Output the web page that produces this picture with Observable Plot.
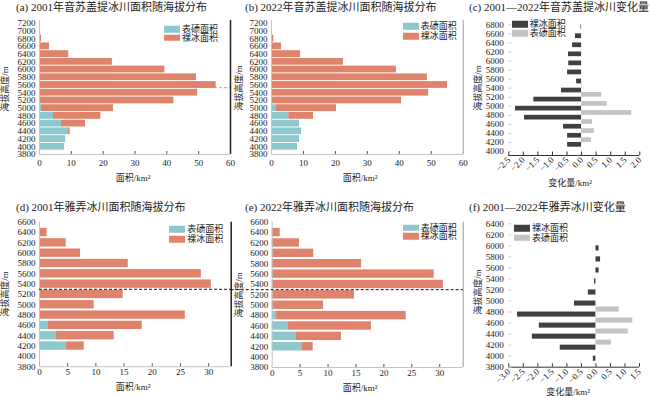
<!DOCTYPE html>
<html><head><meta charset="utf-8">
<script src="https://cdn.jsdelivr.net/npm/d3@7"></script>
<script src="https://cdn.jsdelivr.net/npm/@observablehq/plot@0.6"></script>
<style>
body{margin:0;background:#fff;}
#wrap{position:relative;width:650px;height:396px;overflow:hidden;background:#fff;font-family:"Liberation Serif","Noto Sans CJK SC",serif;color:#222;}
.t{position:absolute;white-space:nowrap;line-height:1;}
.title{font-size:11px;transform:translateY(-50%);}
.yl{font-size:9px;transform:translate(-50%,-50%) rotate(-90deg);}
.xl{font-size:9px;transform:translate(-50%,-50%);}
.sw{position:absolute;width:16px;height:6.5px;transform:translateY(-50%);}
.lt{position:absolute;font-size:9px;line-height:1;white-space:nowrap;transform:translateY(-50%);}
</style></head><body><div id="wrap"></div>
<script>
// ---------------- data ----------------
// 音苏盖提冰川 altitude bands (m)
const insuAlt = [6800, 6600, 6400, 6200, 6000, 5800, 5600, 5400, 5200, 5000, 4800, 4600, 4400, 4200, 4000];
const insu2001Debris = [0, 0, 0, 0, 0, 0, 0, 0, 0, 0.63, 4.4, 6.9, 9.0, 8.2, 7.85];
const insu2001Clean  = [0.63, 3.14, 9.2, 22.9, 39.4, 49.3, 55.5, 49.7, 42.2, 22.6, 14.9, 7.55, 0.6, 0, 0];
const insu2022Debris = [0, 0, 0, 0, 0, 0, 0, 0, 0, 1.36, 5.43, 8.77, 9.4, 8.77, 8.14];
const insu2022Clean  = [0.73, 3.13, 9.08, 22.5, 39.1, 48.8, 55.1, 49.2, 40.7, 19.0, 7.72, 0, 0, 0, 0];
const insuChangeClean  = [-0.02, -0.21, -0.31, -0.45, -0.44, -0.48, -0.17, -0.69, -1.64, -2.27, -1.96, -0.62, -0.48, -0.48, 0];
const insuChangeDebris = [0, 0, 0, 0, 0, 0, 0, 0.02, 0.69, 0.88, 1.72, 0.38, 0.44, 0.34, 0];
const insuSnowline = 5530;

// 雅弄冰川 altitude bands (m)
const yanongAlt = [6400, 6200, 6000, 5800, 5600, 5400, 5200, 5000, 4800, 4600, 4400, 4200, 4000];
const yanong2001Debris = [0, 0, 0, 0, 0, 0, 0, 0, 0, 1.48, 3.02, 4.73, 0.12];
const yanong2001Clean  = [1.36, 4.73, 7.28, 15.74, 28.7, 30.47, 14.85, 9.7, 25.86, 16.74, 10.23, 3.2, 0];
const yanong2022Debris = [0, 0, 0, 0, 0, 0, 0, 0, 0.78, 2.8, 4.23, 5.3, 0];
const yanong2022Clean  = [1.43, 4.89, 7.45, 16.0, 29.0, 30.65, 14.73, 9.18, 23.22, 14.97, 8.17, 2.03, 0];
const yanongChangeClean  = [0, 0, 0.11, 0.16, 0.11, -0.05, -0.26, -0.74, -2.70, -1.95, -2.19, -1.23, -0.09];
const yanongChangeDebris = [0, 0, 0, 0, 0, 0, 0, 0, 0.80, 1.27, 1.11, 0.53, 0];
const yanongSnowline = 5300;

// tick labels
const insuAreaYTicks = [3800, 4000, 4200, 4400, 4600, 4800, 5000, 5200, 5400, 5600, 5800, 6000, 6200, 6400, 6600, 6800, 7000, 7200];
const insuAreaXTicks = [0, 10, 20, 30, 40, 50, 60];
const insuChangeYTicks = [4000, 4200, 4400, 4600, 4800, 5000, 5200, 5400, 5600, 5800, 6000, 6200, 6400, 6600, 6800];
const insuChangeXTicks = [-2.5, -2.0, -1.5, -1.0, -0.5, 0.0, 0.5, 1.0, 1.5, 2.0];
const yanongAreaYTicks = [3800, 4000, 4200, 4400, 4600, 4800, 5000, 5200, 5400, 5600, 5800, 6000, 6200, 6400, 6600];
const yanongAreaXTicks = [0, 5, 10, 15, 20, 25, 30];
const yanongChangeYTicks = [3800, 4000, 4200, 4400, 4600, 4800, 5000, 5200, 5400, 5600, 5800, 6000, 6200, 6400];
const yanongChangeXTicks = [-3.0, -2.5, -2.0, -1.5, -1.0, -0.5, 0.0, 0.5, 1.0, 1.5];

const titles = [
  "(a) 2001年音苏盖提冰川面积随海拔分布",
  "(b) 2022年音苏盖提冰川面积随海拔分布",
  "(c) 2001—2022年音苏盖提冰川变化量",
  "(d) 2001年雅弄冰川面积随海拔分布",
  "(e) 2022年雅弄冰川面积随海拔分布",
  "(f) 2001—2022年雅弄冰川变化量"
];
const yLabel = "海拔高度/m";
const areaLabel = "面积/km²";
const changeLabel = "变化量/km²";
const debrisName = "表碛面积";
const cleanName = "裸冰面积";

// ---------------- styles ----------------
const TEAL = "#8dc8ce", RED = "#df836d", DARK = "#404040", LIGHT = "#c3c3c3";
const FONT = '"Liberation Serif","Noto Sans CJK SC",serif';
const wrap = document.getElementById("wrap");

function place(el, left, top) {
  el.style.position = "absolute";
  el.style.left = left + "px";
  el.style.top = top + "px";
  wrap.appendChild(el);
}
function text(cls, str, x, y) {
  const d = document.createElement("div");
  d.className = "t " + cls;
  d.textContent = str;
  d.style.left = x + "px";
  d.style.top = y + "px";
  wrap.appendChild(d);
}
function legend(x, y, gap, items) {
  items.forEach(([color, name], i) => {
    const s = document.createElement("div");
    s.className = "sw";
    s.style.left = x + "px";
    s.style.top = (y + i * gap) + "px";
    s.style.background = color;
    wrap.appendChild(s);
    const t = document.createElement("div");
    t.className = "lt";
    t.textContent = name;
    t.style.left = (x + 18) + "px";
    t.style.top = (y + i * gap) + "px";
    wrap.appendChild(t);
  });
}
const fmtSigned = d => (d < 0 ? "\u2212" : "") + Math.abs(d).toFixed(1);

function areaPanel(o) {
  const mL = o.fx0 - o.left, mR = o.left + o.w - o.fx1, mT = o.fy0 - o.top, mB = o.top + o.h - o.fy1;
  const plotH = o.fy1 - o.fy0;
  const rows = o.alt.map((a, i) => ({alt: a, debris: o.debris[i], clean: o.clean[i]}));
  const marks = [];
  if (o.snowUnder) marks.push(Plot.ruleY([o.snow], {stroke: "#a8a8a8", strokeDasharray: "3,2"}));
  marks.push(
    Plot.rect(rows.filter(d => d.debris > 0), {x1: () => 0, x2: d => d.debris, y1: d => d.alt - o.halfH, y2: d => d.alt + o.halfH, fill: TEAL}),
    Plot.rect(rows.filter(d => d.clean > 0), {x1: d => d.debris, x2: d => d.debris + d.clean, y1: d => d.alt - o.halfH, y2: d => d.alt + o.halfH, fill: RED}),
    Plot.ruleX([o.xDomain[0]], {stroke: "#c4c4c4"}),
    Plot.ruleX([o.xDomain[1]], {stroke: o.rightColor, strokeWidth: o.rightWidth}),
    Plot.ruleY([o.yDomain[0]], {stroke: "#c4c4c4"}),
    Plot.ruleX(o.xTicks.filter(t => t > o.xDomain[0] && t < o.xDomain[1]), {x: d => d, insetTop: plotH - 3, stroke: "#555"}),
    Plot.axisX({ticks: o.xTicks, tickSize: 0, tickPadding: o.xPad, tickFormat: d => String(d), label: null, fontSize: 9}),
    Plot.axisY({ticks: o.yTicks, tickSize: 0, tickPadding: 4, tickFormat: d => String(d), label: null, fontSize: 9})
  );
  if (o.snowOver) marks.push(Plot.ruleY([o.snow], {stroke: "#111", strokeDasharray: "3,2", insetLeft: o.snowInsetLeft || 0}));
  const svg = Plot.plot({
    width: o.w, height: o.h, marginLeft: mL, marginRight: mR, marginTop: mT, marginBottom: mB,
    x: {domain: o.xDomain}, y: {domain: o.yDomain},
    style: {background: "transparent", overflow: "visible", fontFamily: FONT, fontSize: "9px", color: "#222"},
    marks
  });
  place(svg, o.left, o.top);
}

function changePanel(o) {
  const mL = o.fx0 - o.left, mR = o.left + o.w - o.fx1, mT = o.fy0 - o.top, mB = o.top + o.h - o.fy1;
  const plotH = o.fy1 - o.fy0;
  const rows = o.alt.map((a, i) => ({alt: a, clean: o.clean[i], debris: o.debris[i]}));
  const svg = Plot.plot({
    width: o.w, height: o.h, marginLeft: mL, marginRight: mR, marginTop: mT, marginBottom: mB,
    x: {domain: o.xDomain}, y: {domain: o.yDomain},
    style: {background: "transparent", overflow: "visible", fontFamily: FONT, fontSize: "9px", color: "#222"},
    marks: [
      Plot.rect(rows.filter(d => d.clean !== 0), {x1: () => 0, x2: d => d.clean, y1: d => d.alt - o.bh, y2: d => d.alt, fill: DARK}),
      Plot.rect(rows.filter(d => d.debris !== 0), {x1: () => 0, x2: d => d.debris, y1: d => d.alt, y2: d => d.alt + o.bh, fill: LIGHT}),
      Plot.ruleY([o.yDomain[0]], {stroke: "#333"}),
      Plot.ruleX(o.xTicks, {x: d => d, insetTop: plotH - 3.5, stroke: "#333"}),
      Plot.ruleY(o.yTicks, {y: d => d, insetRight: (o.fx1 - o.fx0) - 3, stroke: "#c8c8c8"}),
      Plot.axisX({ticks: o.xTicks, tickSize: 0, tickPadding: 3, tickRotate: -45, tickFormat: fmtSigned, label: null, fontSize: 9}),
      Plot.axisY({ticks: o.yTicks, tickSize: 0, tickPadding: 5, tickFormat: d => String(d), label: null, fontSize: 9})
    ]
  });
  place(svg, o.left, o.top);
}

// ---------------- panels ----------------
areaPanel({left: 0, top: 0, w: 232, h: 200, fx0: 39, fx1: 230, fy0: 20, fy1: 154,
  xDomain: [0, 60], yDomain: [3800, 7270], xTicks: insuAreaXTicks, yTicks: insuAreaYTicks,
  alt: insuAlt, debris: insu2001Debris, clean: insu2001Clean, halfH: 88, xPad: 5,
  snow: insuSnowline, snowUnder: true, rightColor: "#222", rightWidth: 1.5});
areaPanel({left: 232, top: 0, w: 233, h: 200, fx0: 271, fx1: 462.7, fy0: 20, fy1: 154,
  xDomain: [0, 60], yDomain: [3800, 7270], xTicks: insuAreaXTicks, yTicks: insuAreaYTicks,
  alt: insuAlt, debris: insu2022Debris, clean: insu2022Clean, halfH: 88, xPad: 5,
  rightColor: "#999", rightWidth: 1});
changePanel({left: 465, top: 0, w: 185, h: 200, fx0: 508.3, fx1: 639.3, fy0: 19.8, fy1: 155,
  xDomain: [-2.5, 2.0], yDomain: [3912, 6900], xTicks: insuChangeXTicks, yTicks: insuChangeYTicks,
  alt: insuAlt, clean: insuChangeClean, debris: insuChangeDebris, bh: 104});

areaPanel({left: 0, top: 195, w: 232, h: 201, fx0: 39, fx1: 230.7, fy0: 221.7, fy1: 366.2,
  xDomain: [0, 34], yDomain: [3800, 6600], xTicks: yanongAreaXTicks, yTicks: yanongAreaYTicks,
  alt: yanongAlt, debris: yanong2001Debris, clean: yanong2001Clean, halfH: 81, xPad: 2,
  snow: yanongSnowline, snowOver: true, rightColor: "#222", rightWidth: 1.5});
areaPanel({left: 232, top: 195, w: 233, h: 201, fx0: 271.7, fx1: 462.7, fy0: 221.7, fy1: 367,
  xDomain: [0, 34.2], yDomain: [3800, 6600], xTicks: yanongAreaXTicks, yTicks: yanongAreaYTicks,
  alt: yanongAlt, debris: yanong2022Debris, clean: yanong2022Clean, halfH: 81, xPad: 2,
  snow: yanongSnowline, snowOver: true, snowInsetLeft: -(271.7 - 230.7), rightColor: "#999", rightWidth: 1});
changePanel({left: 465, top: 195, w: 185, h: 201, fx0: 508.3, fx1: 639, fy0: 223.3, fy1: 366.7,
  xDomain: [-3.0, 1.5], yDomain: [3800, 6400], xTicks: yanongChangeXTicks, yTicks: yanongChangeYTicks,
  alt: yanongAlt, clean: yanongChangeClean, debris: yanongChangeDebris, bh: 92});

// ---------------- texts ----------------
text("title", titles[0], 16, 6.5);
text("title", titles[1], 245, 6.5);
text("title", titles[2], 469, 6.5);
text("title", titles[3], 16, 207);
text("title", titles[4], 245, 207);
text("title", titles[5], 469, 207);

text("yl", yLabel, 5, 89);
text("yl", yLabel, 238.5, 88);
text("yl", yLabel, 477.5, 88);
text("yl", yLabel, 5, 294);
text("yl", yLabel, 239, 295);
text("yl", yLabel, 477.5, 292);

text("xl", areaLabel, 133, 178);
text("xl", areaLabel, 360, 178);
text("xl", changeLabel, 570, 183);
text("xl", areaLabel, 133, 387);
text("xl", areaLabel, 360, 388);
text("xl", changeLabel, 568, 391.5);

legend(164, 29, 8.5, [[TEAL, debrisName], [RED, cleanName]]);
legend(402.7, 26, 10, [[TEAL, debrisName], [RED, cleanName]]);
legend(511.7, 24.2, 9, [[DARK, cleanName], [LIGHT, debrisName]]);
legend(169.3, 229.3, 10, [[TEAL, debrisName], [RED, cleanName]]);
legend(402.7, 227.7, 8.7, [[TEAL, debrisName], [RED, cleanName]]);
legend(514, 228, 9.7, [[DARK, cleanName], [LIGHT, debrisName]]);
</script></body></html>
